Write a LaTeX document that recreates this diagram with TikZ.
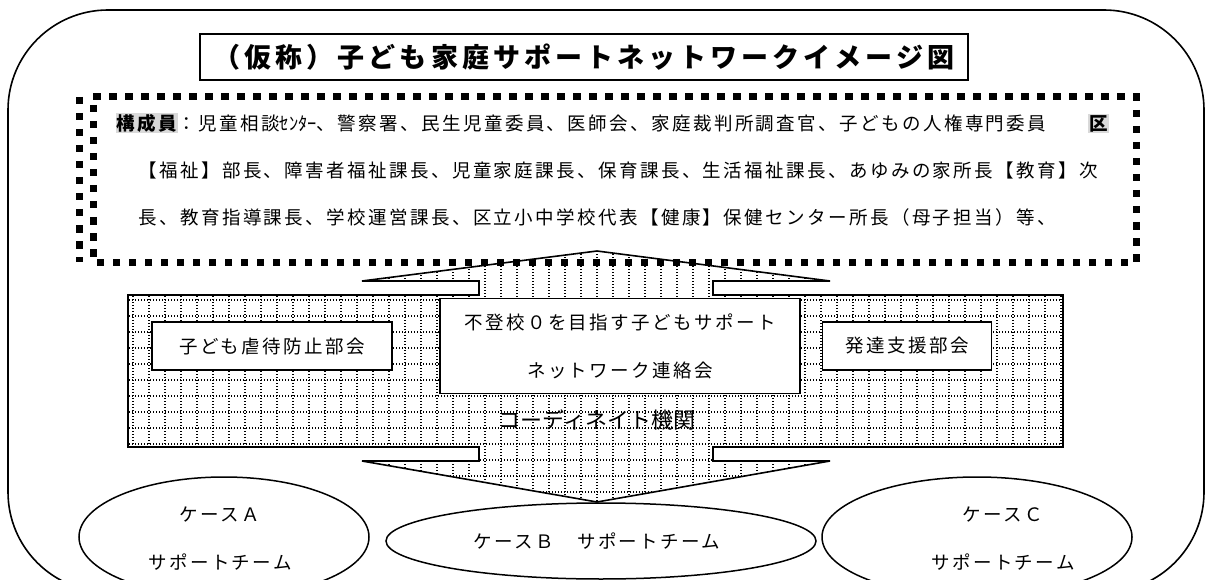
\documentclass[tikz,border=0pt]{standalone}
\usepackage{fontspec}
\newfontfamily\jpfont{Noto Sans CJK JP}
\newfontfamily\jpspaced[LetterSpace=13]{Noto Sans CJK JP}
\newfontfamily\jptitle[LetterSpace=15]{Noto Sans CJK JP}
\usetikzlibrary{shapes.geometric}
\definecolor{hilite}{gray}{0.85}
\setlength{\fboxsep}{1pt}

\tikzset{
  frame/.style={draw, line width=1.6pt},
  memberdots/.style={line width=7pt, dash pattern=on 7.5pt off 8.5pt},
  gridline/.style={line width=1.1pt, dash pattern=on 1.4pt off 1.6pt},
  subbox/.style={draw, line width=1.8pt, fill=white, inner sep=0pt},
  casering/.style={ellipse, draw, line width=1.5pt, fill=white, inner sep=0pt},
  caselabel/.style={align=center},
}

\begin{document}
\begin{tikzpicture}[x=1pt, y=-1pt,
    every node/.style={font=\jpspaced\fontsize{18.5pt}{22pt}\selectfont}]

  \useasboundingbox (0,0) rectangle (1207,580);
  \clip (0,0) rectangle (1207,580);

  % outer frame
  \draw[frame, rounded corners=100pt] (8,10) rectangle (1204,592);

  \node[frame, minimum width=768pt, minimum height=46pt,
        font=\jptitle\bfseries\fontsize{27pt}{30pt}\selectfont] (title) at (584,57)
    {（仮称）子ども家庭サポートネットワークイメージ図};

  % members
  \draw[memberdots] (93,97) -- (1136,97) -- (1136,262) -- (93,262);
  \draw[memberdots] (79,97) -- (79,262);
  \draw[memberdots, dash phase=8pt] (93,97) -- (93,262);

  \node[anchor=west] (members1) at (112,123)
    {\colorbox{hilite}{\bfseries 構成員}：児童相談{\jpfont ｾﾝﾀｰ}、警察署、民生児童委員、医師会、家庭裁判所調査官、子どもの人権専門委員　　\colorbox{hilite}{\bfseries 区}};
  \node[anchor=west] (members2) at (135,170)
    {【福祉】部長、障害者福祉課長、児童家庭課長、保育課長、生活福祉課長、あゆみの家所長【教育】次};
  \node[anchor=west] (members3) at (135,217)
    {長、教育指導課長、学校運営課長、区立小中学校代表【健康】保健センター所長（母子担当）等、};

  % coordination body with both arrow heads
  \draw[line width=1.6pt, path picture={
      \foreach \gx in {133,149,...,1069} \draw[gridline] (\gx,245) -- (\gx,505);
      \foreach \gy in {300,316,...,500} \draw[gridline] (120,\gy) -- (1070,\gy);
    }]
    (128,295) -- (479,295) -- (479,281) -- (362,281) -- (597,251) -- (830,281)
    -- (713,281) -- (713,295) -- (1063,295) -- (1063,447) -- (713,447)
    -- (713,461) -- (830,461) -- (597,502) -- (362,461) -- (479,461)
    -- (479,447) -- (128,447) -- cycle;

  \node[subbox, minimum width=240pt, minimum height=48pt] (abuse) at (272,346) {子ども虐待防止部会};
  \node[subbox, minimum width=360pt, minimum height=95pt, align=center] (network) at (620,346)
    {不登校０を目指す子どもサポート\\[26pt]ネットワーク連絡会};
  \node[subbox, minimum width=169pt, minimum height=48pt] (develop) at (907,346) {発達支援部会};
  \node[font=\jpfont\fontsize{22pt}{24pt}\selectfont] (coord) at (597,420) {コーディネイト機関};

  % support teams
  \node[casering, minimum width=290pt, minimum height=120pt] (caseA) at (224,537) {};
  \node[casering, minimum width=430pt, minimum height=76pt] (caseB) at (601,541) {};
  \node[casering, minimum width=310pt, minimum height=120pt] (caseC) at (977,537) {};
  \node[caselabel] (caseAtext) at (220,539) {ケースＡ\\[26pt]サポートチーム};
  \node[caselabel] (caseBtext) at (597,541) {ケースＢ　サポートチーム};
  \node[caselabel] (caseCtext) at (1003,539) {ケースＣ\\[26pt]サポートチーム};

\end{tikzpicture}
\end{document}
